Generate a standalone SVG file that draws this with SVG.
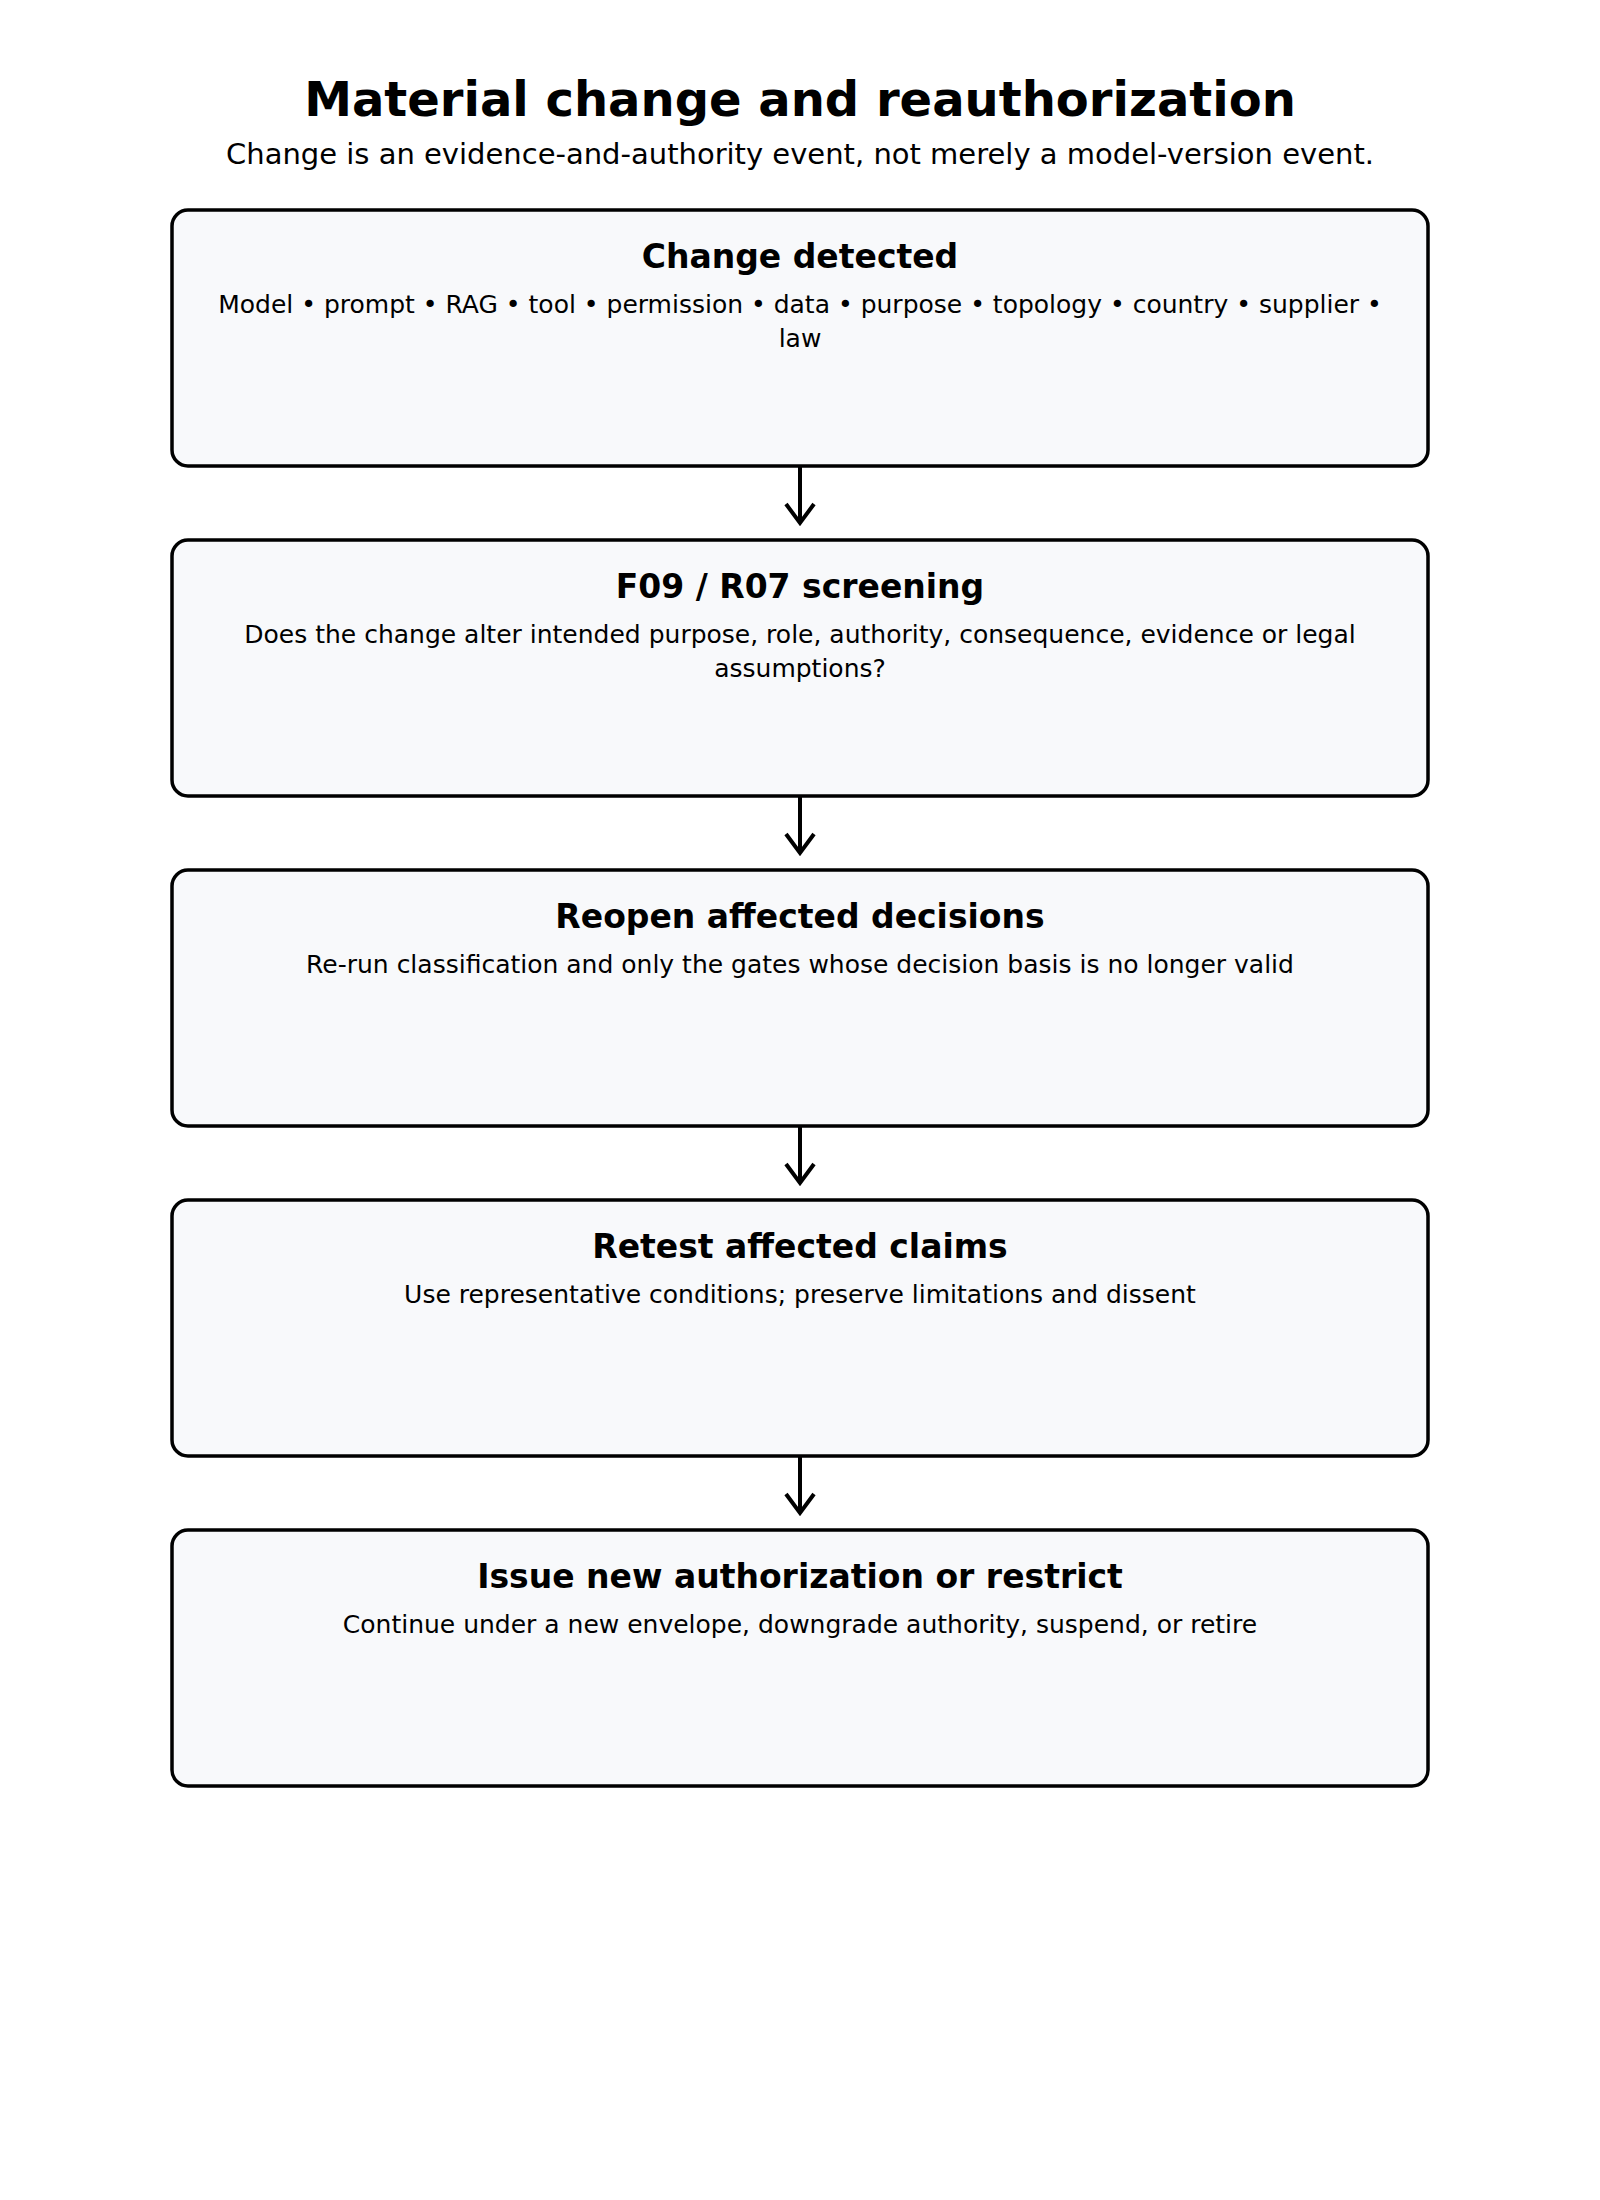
<svg xmlns="http://www.w3.org/2000/svg" width="1600" height="2200" viewBox="0 0 1600 2200">
<style>
.title{font-family:"DejaVu Sans",sans-serif;font-weight:bold;font-size:48px;fill:#000;text-anchor:middle}
.sub{font-family:"DejaVu Sans",sans-serif;font-size:29px;fill:#000;text-anchor:middle}
.box{fill:#f8f9fb;stroke:#000;stroke-width:3.5}
.head{font-family:"DejaVu Sans",sans-serif;font-weight:bold;font-size:33px;fill:#000;text-anchor:middle}
.body{font-family:"DejaVu Sans",sans-serif;font-size:25px;fill:#000;text-anchor:middle}
.conn{fill:none;stroke:#000;stroke-width:4}
</style>
<rect x="0" y="0" width="1600" height="2200" fill="#fff"/>
<text class="title" x="800" y="116">Material change and reauthorization</text>
<text class="sub" x="800" y="164">Change is an evidence-and-authority event, not merely a model-version event.</text>
<g id="node-change-detected">
<rect class="box" x="172" y="210" width="1256" height="256" rx="16"/>
<text class="head" x="800" y="268">Change detected</text>
<text class="body" x="800" y="313">Model • prompt • RAG • tool • permission • data • purpose • topology • country • supplier •</text>
<text class="body" x="800" y="347">law</text>
</g>
<g id="node-screening">
<rect class="box" x="172" y="540" width="1256" height="256" rx="16"/>
<text class="head" x="800" y="598">F09 / R07 screening</text>
<text class="body" x="800" y="643">Does the change alter intended purpose, role, authority, consequence, evidence or legal</text>
<text class="body" x="800" y="677">assumptions?</text>
</g>
<g id="node-reopen">
<rect class="box" x="172" y="870" width="1256" height="256" rx="16"/>
<text class="head" x="800" y="928">Reopen affected decisions</text>
<text class="body" x="800" y="973">Re-run classification and only the gates whose decision basis is no longer valid</text>
</g>
<g id="node-retest">
<rect class="box" x="172" y="1200" width="1256" height="256" rx="16"/>
<text class="head" x="800" y="1258">Retest affected claims</text>
<text class="body" x="800" y="1303">Use representative conditions; preserve limitations and dissent</text>
</g>
<g id="node-issue">
<rect class="box" x="172" y="1530" width="1256" height="256" rx="16"/>
<text class="head" x="800" y="1588">Issue new authorization or restrict</text>
<text class="body" x="800" y="1633">Continue under a new envelope, downgrade authority, suspend, or retire</text>
</g>
<g id="connectors">
<path class="conn" d="M800 466V523M786 504L800 523L814 504"/>
<path class="conn" d="M800 796V853M786 834L800 853L814 834"/>
<path class="conn" d="M800 1126V1183M786 1164L800 1183L814 1164"/>
<path class="conn" d="M800 1456V1513M786 1494L800 1513L814 1494"/>
</g>
</svg>
